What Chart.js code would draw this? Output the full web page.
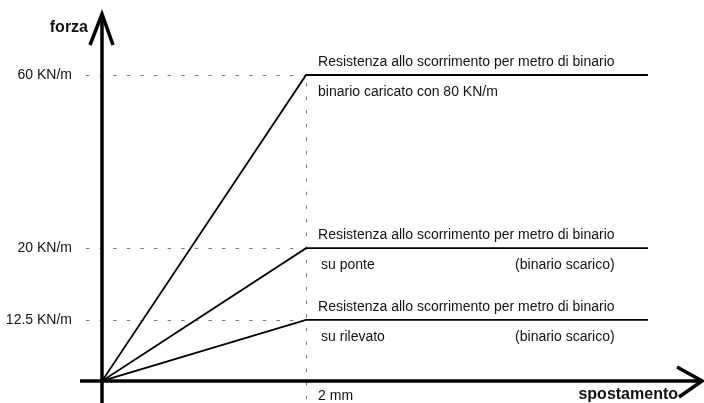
<!DOCTYPE html>
<html><head><meta charset="utf-8">
<script src="https://cdn.jsdelivr.net/npm/chart.js@4/dist/chart.umd.min.js"></script>
<style>html,body{margin:0;padding:0;background:#fff}#wrap{width:704px;height:403px}</style>
</head><body><div id="wrap"><canvas id="c" width="704" height="403"></canvas></div>
<script>
// ---- data ----
const levels = [60, 20, 12.5];            // KN/m plateau values
const yieldDisp = 2;                       // mm
const endDisp = 5.35;                      // mm, end of plateau drawn
const tickValues = [12.5, 20, 60];
const tickLabels = ['12.5 KN/m', '20 KN/m', '60 KN/m'];
const titleText = 'Resistenza allo scorrimento per metro di binario';
const subLeft = ['binario caricato con 80 KN/m', 'su ponte', 'su rilevato'];
const subRight = ['', '(binario scarico)', '(binario scarico)'];
const xLabel = 'spostamento';
const yLabel = 'forza';
const xTickLabel = '2 mm';

// ---- schematic (non-linear) y scale: value breakpoints and their share of axis height ----
const yBreaks = [0, 12.5, 20, 60, 72];
const yShares = [0, 0.166, 0.361, 0.8315, 1];

class SchematicScale extends Chart.LinearScale {
  getPixelForValue(v) {
    let f = 0;
    for (let i = 1; i < yBreaks.length; i++) {
      if (v <= yBreaks[i] || i === yBreaks.length - 1) {
        const t = (v - yBreaks[i-1]) / (yBreaks[i] - yBreaks[i-1]);
        f = yShares[i-1] + t * (yShares[i] - yShares[i-1]);
        break;
      }
    }
    return this.getPixelForDecimal(f);
  }
  getValueForPixel(p) {
    const f = this.getDecimalForPixel(p);
    for (let i = 1; i < yShares.length; i++) {
      if (f <= yShares[i] || i === yShares.length - 1) {
        const t = (f - yShares[i-1]) / (yShares[i] - yShares[i-1]);
        return yBreaks[i-1] + t * (yBreaks[i] - yBreaks[i-1]);
      }
    }
  }
}
SchematicScale.id = 'schematic';
SchematicScale.defaults = Chart.LinearScale.defaults;
Chart.register(SchematicScale);

const FONT = '"Liberation Sans", Arial, sans-serif';

const datasets = levels.map(L => ({
  data: [{x: 0, y: 0}, {x: yieldDisp, y: L}, {x: endDisp, y: L}],
  borderColor: '#000', borderWidth: 1.8, pointRadius: 0, tension: 0, fill: false
}));

const decor = {
  id: 'decor',
  beforeDatasetsDraw(chart) {
    const {ctx, chartArea: a, scales: {x, y}} = chart;
    const x0 = x.getPixelForValue(0), x2 = x.getPixelForValue(yieldDisp);
    ctx.save();
    ctx.strokeStyle = '#7a7a7a'; ctx.lineWidth = 1; ctx.setLineDash([3.5, 10.1]);
    levels.forEach(L => {
      const py = Math.round(y.getPixelForValue(L)) + 0.5;
      ctx.beginPath(); ctx.moveTo(x0 - 16, py); ctx.lineTo(x2, py); ctx.stroke();
    });
    ctx.beginPath();
    ctx.moveTo(Math.round(x2) + 0.5, y.getPixelForValue(levels[0]) + 8);
    ctx.lineTo(Math.round(x2) + 0.5, chart.height);
    ctx.stroke();
    ctx.restore();
  },
  afterDatasetsDraw(chart) {
    const {ctx, chartArea: a, scales: {x, y}} = chart;
    const x0 = x.getPixelForValue(0), y0 = y.getPixelForValue(0);
    const x2 = x.getPixelForValue(yieldDisp);
    ctx.save();
    ctx.strokeStyle = '#000'; ctx.lineWidth = 3.5; ctx.lineJoin = 'miter'; ctx.lineCap = 'butt';
    // vertical axis
    ctx.beginPath(); ctx.moveTo(x0, chart.height); ctx.lineTo(x0, a.top + 2); ctx.stroke();
    ctx.beginPath(); ctx.moveTo(x0 - 12, a.top + 32); ctx.lineTo(x0, a.top + 1); ctx.lineTo(x0 + 11, a.top + 32); ctx.stroke();
    // horizontal axis
    ctx.beginPath(); ctx.moveTo(x0 - 22, y0); ctx.lineTo(a.right - 2, y0); ctx.stroke();
    ctx.beginPath(); ctx.moveTo(a.right - 26, y0 - 14); ctx.lineTo(a.right - 1, y0); ctx.lineTo(a.right - 24, y0 + 16); ctx.stroke();

    ctx.fillStyle = '#111'; ctx.textBaseline = 'middle'; ctx.textAlign = 'left';
    ctx.font = '14px ' + FONT;
    levels.forEach((L, i) => {
      const py = y.getPixelForValue(L);
      ctx.fillText(titleText, x2 + 12, py - 13);
      ctx.fillText(subLeft[i], x2 + 12 + (i === 0 ? 0 : 3), py + 17);
      if (subRight[i]) ctx.fillText(subRight[i], x2 + 209, py + 17);
    });
    ctx.fillText(xTickLabel, x2 + 12, chart.height - 7);
    ctx.font = 'bold 16px ' + FONT;
    ctx.textAlign = 'right';
    ctx.fillText(xLabel, a.right - 25, y0 + 14);
    ctx.fillText(yLabel, x0 - 14, a.top + 15);
    ctx.restore();
  }
};

new Chart(document.getElementById('c'), {
  type: 'line',
  data: {datasets},
  options: {
    responsive: false, animation: false, events: [],
    layout: {padding: {left: 0, right: 1, top: 13, bottom: 22}},
    plugins: {legend: {display: false}, tooltip: {enabled: false}},
    scales: {
      x: {type: 'linear', min: 0, max: 5.89, display: false},
      y: {
        type: 'schematic', min: 0, max: 72,
        grid: {display: false, drawTicks: false}, border: {display: false},
        afterBuildTicks: s => { s.ticks = tickValues.map(v => ({value: v})); },
        afterFit: s => { s.width = 102; s.paddingTop = 0; s.paddingBottom = 0; },
        ticks: {
          padding: 30, color: '#111', font: {family: FONT, size: 14},
          callback: v => tickLabels[tickValues.indexOf(v)]
        }
      }
    }
  },
  plugins: [decor]
});
</script></body></html>
